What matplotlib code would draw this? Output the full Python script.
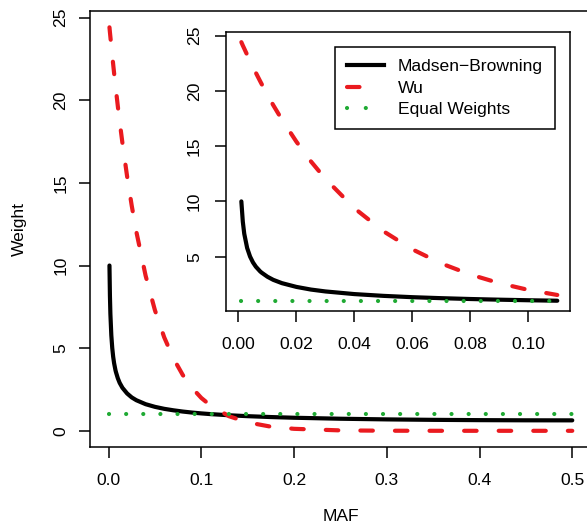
import matplotlib
matplotlib.use('Agg')
import numpy as np
import matplotlib.pyplot as plt
from matplotlib.lines import Line2D

plt.rcParams['font.family'] = ['Liberation Sans', 'DejaVu Sans']

# values
maf = [0.001, 0.0015, 0.002, 0.003, 0.004, 0.005, 0.006, 0.0075, 0.008, 0.01,
       0.012, 0.015, 0.02, 0.025, 0.03, 0.04, 0.05, 0.06, 0.07, 0.08, 0.09,
       0.10, 0.11, 0.13, 0.15, 0.175, 0.2, 0.25, 0.3, 0.35, 0.4, 0.45, 0.5]
madsen_browning = [10.0, 8.17, 7.07, 5.78, 5.01, 4.48, 4.09, 3.66, 3.55, 3.18,
                   2.90, 2.60, 2.26, 2.02, 1.85, 1.61, 1.45, 1.33, 1.24, 1.165, 1.104,
                   1.053, 1.01, 0.94, 0.885, 0.832, 0.79, 0.73, 0.69, 0.663, 0.645, 0.635, 0.632]
wu = [24.41, 24.11, 23.83, 23.26, 22.71, 22.17, 21.64, 20.87, 20.62, 19.64,
      18.71, 17.40, 15.40, 13.62, 12.04, 9.38, 7.30, 5.66, 4.38, 3.38, 2.60,
      1.99, 1.53, 0.88, 0.51, 0.25, 0.12, 0.025, 0.005, 0.001, 0.0, 0.0, 0.0]
equal_weights = 1.0
labels = ['Madsen\u2212Browning', 'Wu', 'Equal Weights']

main_ticks_x = [0.0, 0.1, 0.2, 0.3, 0.4, 0.5]
main_ticks_y = [0, 5, 10, 15, 20, 25]
inset_ticks_x = [0.00, 0.02, 0.04, 0.06, 0.08, 0.10]
inset_ticks_y = [5, 10, 15, 20, 25]
inset_max = 0.11

RED = '#ea1a1f'
GREEN = '#1faa33'
FS = 12.6
DASH = (0, (3.0, 5.3))
DOT = (0, (0.01, 4.1))


def draw_curves(ax, x, mb, w):
    ax.plot(x, mb, color='black', lw=3.0, solid_capstyle='round')
    ax.plot(x, w, color=RED, lw=3.0, linestyle=DASH, dash_capstyle='round')
    ax.plot([x[0], x[-1]], [equal_weights, equal_weights], color=GREEN, lw=3.0,
            linestyle=DOT, dash_capstyle='round')


def style_axes(ax, xpad, ypad):
    for s in ax.spines.values():
        s.set_linewidth(1.1)
    ax.tick_params(width=1.1, length=8, labelsize=FS)
    ax.tick_params(axis='x', pad=xpad)
    ax.tick_params(axis='y', pad=ypad)
    for lab in ax.get_yticklabels():
        lab.set_rotation(90)
        lab.set_va('center')


fig = plt.figure(figsize=(5.87, 5.29), dpi=100)

# main panel
ax = fig.add_axes([0.1533, 0.155, 0.8532, 0.824])
draw_curves(ax, maf, madsen_browning, wu)
ax.set_xlim(-0.02, 0.52)
ax.set_ylim(-0.98, 25.39)
ax.set_xticks(main_ticks_x)
ax.set_xticklabels(['0.0', '0.1', '0.2', '0.3', '0.4', '0.5'])
ax.set_yticks(main_ticks_y)
ax.set_yticklabels([str(v) for v in main_ticks_y])
style_axes(ax, 11, 7.5)
ax.set_xlabel('MAF', fontsize=FS)
ax.set_ylabel('Weight', fontsize=FS)
ax.xaxis.set_label_coords(0.501, -0.142)
ax.yaxis.set_label_coords(-0.126, 0.5)

# inset panel
n_in = sum(1 for v in maf if v <= inset_max)
axi = fig.add_axes([0.3845, 0.4121, 0.5866, 0.5268])
draw_curves(axi, maf[:n_in], madsen_browning[:n_in], wu[:n_in])
axi.set_xlim(-0.0044, 0.1144)
axi.set_ylim(0.08, 25.3)
axi.set_xticks(inset_ticks_x)
axi.set_xticklabels(['0.00', '0.02', '0.04', '0.06', '0.08', '0.10'])
axi.set_yticks(inset_ticks_y)
axi.set_yticklabels([str(v) for v in inset_ticks_y])
style_axes(axi, 11, 9)

# legend keys: one dash for Wu, two dots for equal weights
handles = [Line2D([], [], color='black', lw=3.0),
           Line2D([], [], color=RED, lw=3.0, linestyle=(0, (3.0, 9.0)),
                  dash_capstyle='round'),
           Line2D([], [], color=GREEN, lw=3.0, linestyle=(0, (0.01, 4.5)),
                  dash_capstyle='round')]
leg = axi.legend(handles, labels, loc='upper right', bbox_to_anchor=(0.956, 0.948),
                 borderaxespad=0, fancybox=False, framealpha=1, edgecolor='black',
                 fontsize=FS, handlelength=2.1, handletextpad=0.8,
                 labelspacing=0.35, borderpad=0.7)
leg.get_frame().set_linewidth(1.1)

fig.savefig('out.png', dpi=100)
